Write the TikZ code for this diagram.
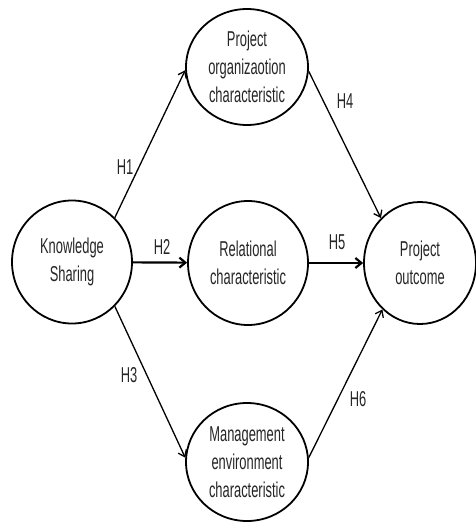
\documentclass[tikz,border=0pt]{standalone}
\usepackage{fontspec}
\setmainfont[FakeStretch=0.6]{Liberation Sans}
\usetikzlibrary{shapes.geometric,arrows.meta}
\begin{document}
\begin{tikzpicture}[x=1pt,y=-1pt,
  every node/.style={font=\fontsize{21.5}{28}\selectfont, text=black!85},
  ell/.style={ellipse, draw=black, line width=1.8pt, inner sep=0pt, align=center},
  diag/.style={line width=1.3pt, -{Straight Barb[length=6pt,width=9pt]}},
  horiz/.style={line width=2.2pt, -{Straight Barb[length=6pt,width=10pt]}},
  hlab/.style={inner sep=0pt}]
\useasboundingbox (0,0) rectangle (476,522);
\node[ell, minimum width=120pt, minimum height=123pt] (ks) at (72,262) {Knowledge\\Sharing};
\node[ell, minimum width=120pt, minimum height=124pt] (rel) at (248,263) {Relational\\characteristic};
\node[ell, minimum width=112pt, minimum height=122pt] (po) at (420,263) {Project\\outcome};
\node[ell, minimum width=122pt, minimum height=116pt] (top) at (247,67) {Project\\organizaotion\\characteristic};
\node[ell, minimum width=122pt, minimum height=118pt] (bot) at (247,462) {Management\\environment\\characteristic};
\draw[diag] (ks.46) -- (top.183);
\draw[horiz] (ks) -- (rel);
\draw[diag] (ks.-46) -- (bot.176);
\draw[diag] (top.-4) -- (po.131);
\draw[horiz] (rel) -- (po);
\draw[diag] (bot.4) -- (po.231);
\node[hlab] (h1) at (125,167) {H1};
\node[hlab] (h2) at (162,247) {H2};
\node[hlab] (h3) at (129,375) {H3};
\node[hlab] (h4) at (345,101) {H4};
\node[hlab] (h5) at (337,242) {H5};
\node[hlab] (h6) at (358,399) {H6};
\end{tikzpicture}
\end{document}
